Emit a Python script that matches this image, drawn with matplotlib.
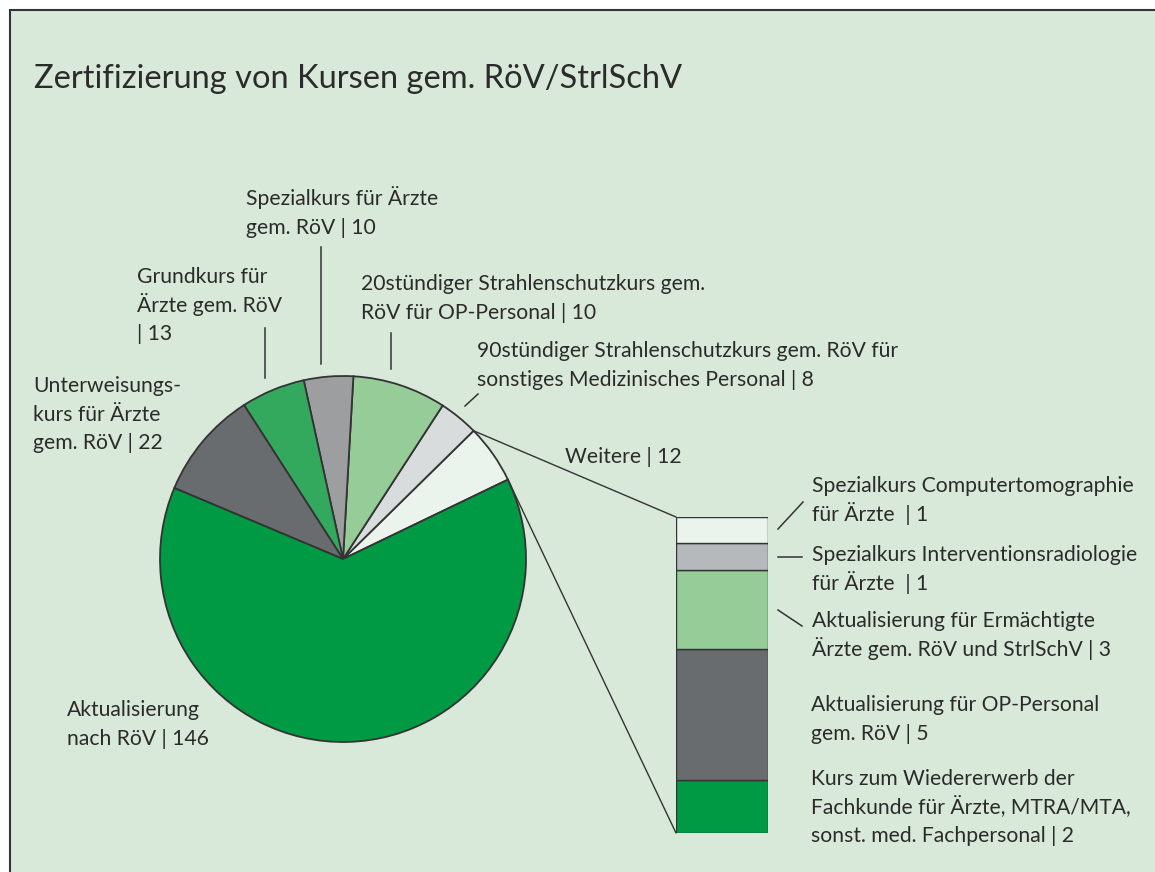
import numpy as np
import matplotlib.pyplot as plt
from matplotlib.patches import Rectangle, ConnectionPatch

plt.rcParams['font.family'] = ['Lato', 'DejaVu Sans']

# pie slices, counter-clockwise from the "Weitere" slice
pie_names = ['Weitere', '90stündiger', '20stündiger', 'Spezialkurs', 'Grundkurs',
             'Unterweisung', 'Aktualisierung']
pie_values = [12, 8, 19, 10, 13, 22, 146]   # slice sizes as drawn in the picture
pie_colors = ['#eaf3ec', '#d8dcdd', '#96cc98', '#9c9e9f', '#33a95e', '#686c6e', '#009a44']

# breakdown of "Weitere", bottom to top
bar_names = ['Wiedererwerb', 'OP-Personal', 'Ermächtigte', 'Interventionsradiologie', 'CT']
bar_values = [2, 5, 3, 1, 1]
bar_colors = ['#009a44', '#686c6e', '#96cc98', '#b5b9bb', '#eaf3ec']

title = 'Zertifizierung von Kursen gem. RöV/StrlSchV'
pie_labels = [
    'Spezialkurs für Ärzte\ngem. RöV | 10',
    'Grundkurs für\nÄrzte gem. RöV\n| 13',
    '20stündiger Strahlenschutzkurs gem.\nRöV für OP-Personal | 10',
    '90stündiger Strahlenschutzkurs gem. RöV für\nsonstiges Medizinisches Personal | 8',
    'Unterweisungs-\nkurs für Ärzte\ngem. RöV | 22',
    'Weitere | 12',
    'Aktualisierung\nnach RöV | 146',
]
bar_labels = [
    'Spezialkurs Computertomographie\nfür Ärzte  | 1',
    'Spezialkurs Interventionsradiologie\nfür Ärzte  | 1',
    'Aktualisierung für Ermächtigte\nÄrzte gem. RöV und StrlSchV | 3',
    'Aktualisierung für OP-Personal\ngem. RöV | 5',
    'Kurs zum Wiedererwerb der\nFachkunde für Ärzte, MTRA/MTA,\nsonst. med. Fachpersonal | 2',
]

W, H = 1155, 872
bg = '#d9e9d9'
txt = '#2b2b2b'
edge = '#333333'
fs = 15.2
lh = 28.5   # line height in pixels

fig = plt.figure(figsize=(W / 100, H / 100), dpi=100)
fig.patch.set_facecolor('white')
ax = fig.add_axes([0, 0, 1, 1])

# background panel, only left and top edges visible
ax.add_patch(Rectangle((10, 10), W + 20, H + 20, facecolor=bg, edgecolor=edge, lw=1.5, zorder=0))

cx, cy, r = 343, 559, 183
# y axis points down, so clockwise in data == counter-clockwise on screen
wedges, _ = ax.pie(pie_values, colors=pie_colors, startangle=-25.7, counterclock=False,
                   center=(cx, cy), radius=r,
                   wedgeprops=dict(edgecolor=edge, linewidth=1.3))
ax.set_xlim(0, W)
ax.set_ylim(H, 0)
ax.set_aspect('equal')
ax.axis('off')

ax.text(34, 88, title, fontsize=23.5, color=txt, va='baseline')


def label(x, y, s):
    for i, line in enumerate(s.split('\n')):
        ax.text(x, y + i * lh, line, fontsize=fs, color=txt, va='baseline')


pie_pos = [(246, 205), (137, 283), (361, 290), (477, 357), (33, 392), (565, 463), (67, 716)]
for (x, y), s in zip(pie_pos, pie_labels):
    label(x, y, s)

lead = [((321, 247), (321, 364)), ((265, 328), (265, 378)), ((391, 333), (391, 369)),
        ((478, 394), (465, 406))]
for (x0, y0), (x1, y1) in lead:
    ax.plot([x0, x1], [y0, y1], color=edge, lw=1.1)

# stacked bar for "Weitere"
bx = fig.add_axes([676 / W, 1 - 833 / H, 92 / W, 316 / H])
bottom = np.concatenate([[0], np.cumsum(bar_values)[:-1]])
bx.bar(0, bar_values, bottom=bottom, width=1, color=bar_colors, edgecolor=edge, linewidth=1.0)
bx.set_xlim(-0.5, 0.5)
bx.set_ylim(0, sum(bar_values))
bx.axis('off')

# connectors from the "Weitere" wedge to the bar
w = wedges[0]
for ang, yb in [(w.theta1, sum(bar_values)), (w.theta2, 0)]:
    px = cx + r * np.cos(np.radians(ang))
    py = cy + r * np.sin(np.radians(ang))
    con = ConnectionPatch(xyA=(px, py), coordsA=ax.transData, xyB=(-0.5, yb), coordsB=bx.transData,
                          color=edge, lw=1.0)
    fig.add_artist(con)

bar_pos = [(812, 492), (812, 561), (812, 627), (811, 711), (811, 785)]
for (x, y), s in zip(bar_pos, bar_labels):
    label(x, y, s)

bar_lead = [((778, 529), (803, 502)), ((778, 557), (802, 557)), ((778, 610), (802, 626))]
for (x0, y0), (x1, y1) in bar_lead:
    ax.plot([x0, x1], [y0, y1], color=edge, lw=1.1)

fig.savefig('out.png', dpi=100, facecolor=fig.get_facecolor())
